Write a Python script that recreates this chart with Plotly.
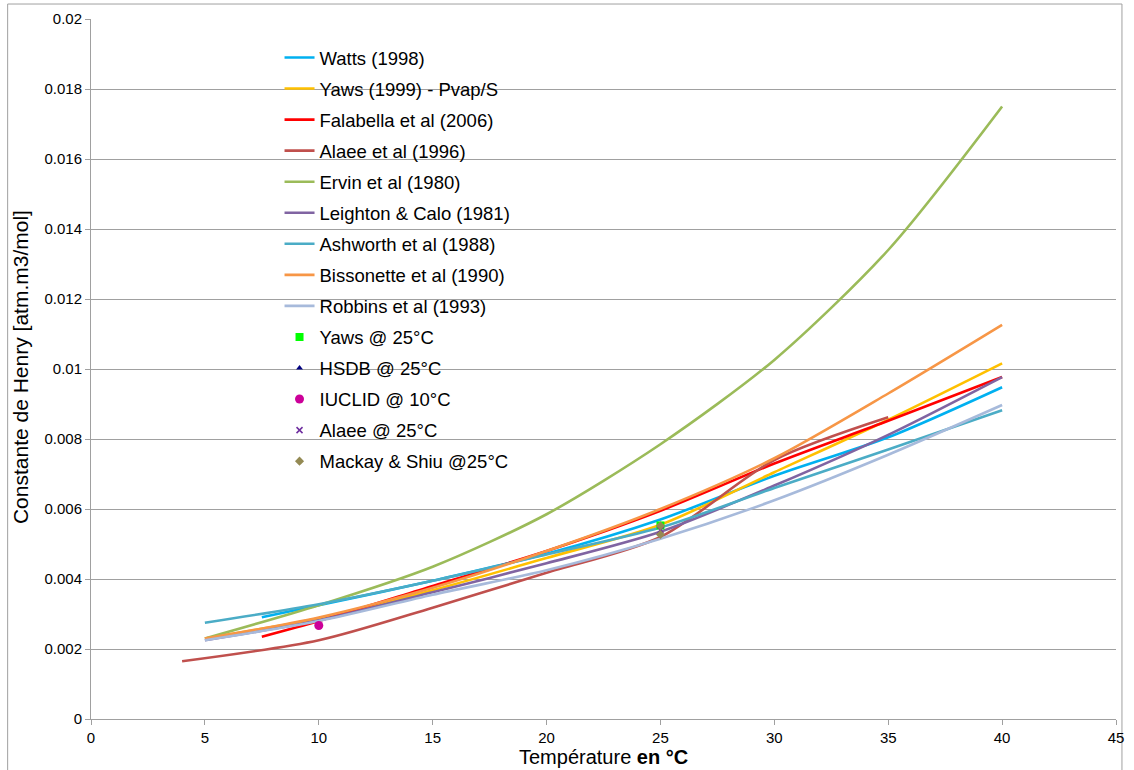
import plotly.graph_objects as go

# ---- data ----
T_full = [5, 10, 15, 20, 25, 30, 35, 40]
T_watts = [7.5, 10, 15, 20, 25, 30, 35, 40]
T_alaee = [4, 10, 15, 20, 25, 30, 35]

watts = [0.00291, 0.00325, 0.00395, 0.00472, 0.00570, 0.00695, 0.00805, 0.00948]
yaws = [0.00230, 0.00288, 0.00368, 0.00460, 0.00555, 0.00705, 0.00855, 0.01016]
falabella = [0.00235, 0.00280, 0.00380, 0.00480, 0.00595, 0.00730, 0.00852, 0.00977]
alaee = [0.00165, 0.00225, 0.00318, 0.00418, 0.00520, 0.00740, 0.00862]
ervin = [0.00230, 0.00325, 0.00435, 0.00585, 0.00785, 0.01026, 0.01340, 0.01750]
leighton = [0.00225, 0.00282, 0.00362, 0.00445, 0.00535, 0.00667, 0.00812, 0.00977]
ashworth = [0.00275, 0.00328, 0.00395, 0.00470, 0.00547, 0.00660, 0.00770, 0.00882]
bissonette = [0.00230, 0.00290, 0.00375, 0.00480, 0.00600, 0.00745, 0.00930, 0.01126]
robbins = [0.00225, 0.00280, 0.00355, 0.00425, 0.00515, 0.00625, 0.00755, 0.00897]

pt_yaws_x, pt_yaws_y = [25], [0.00553]
pt_hsdb_x, pt_hsdb_y = [25], [0.00550]
pt_iuclid_x, pt_iuclid_y = [10], [0.00267]
pt_alaee_x, pt_alaee_y = [25], [0.00540]
pt_mackay_x, pt_mackay_y = [25, 25], [0.00552, 0.00527]

x_ticks = [0, 5, 10, 15, 20, 25, 30, 35, 40, 45]
y_ticks = [0, 0.002, 0.004, 0.006, 0.008, 0.01, 0.012, 0.014, 0.016, 0.018, 0.02]
y_ticktext = ["0", "0.002", "0.004", "0.006", "0.008", "0.01", "0.012", "0.014", "0.016", "0.018", "0.02"]

FONT = "Liberation Sans, Arial, sans-serif"

lines = [
    ("Watts (1998)", T_watts, watts, "#00B0F0"),
    ("Yaws (1999) - Pvap/S", T_full, yaws, "#FFC000"),
    ("Falabella et al (2006)", T_watts, falabella, "#FF0000"),
    ("Alaee et al (1996)", T_alaee, alaee, "#C0504D"),
    ("Ervin et al (1980)", T_full, ervin, "#9BBB59"),
    ("Leighton & Calo (1981)", T_full, leighton, "#8064A2"),
    ("Ashworth et al (1988)", T_full, ashworth, "#4BACC6"),
    ("Bissonette et al (1990)", T_full, bissonette, "#F79646"),
    ("Robbins et al (1993)", T_full, robbins, "#A7BADB"),
]

fig = go.Figure()
for i, (name, xs, ys, col) in enumerate(lines):
    fig.add_trace(go.Scatter(x=xs, y=ys, mode="lines", name=name, legendgroup=f"g{i}",
                             line=dict(color=col, width=2.6, shape="spline", smoothing=0.8)))

pts = [
    ("Yaws @ 25°C", pt_yaws_x, pt_yaws_y, dict(symbol="square", color="#00FF00", size=8)),
    ("HSDB @ 25°C", pt_hsdb_x, pt_hsdb_y, dict(symbol="triangle-up", color="#000080", size=6)),
    ("IUCLID @ 10°C", pt_iuclid_x, pt_iuclid_y, dict(symbol="circle", color="#CC0099", size=9)),
    ("Alaee @ 25°C", pt_alaee_x, pt_alaee_y, dict(symbol="x-thin", color="#7030A0", size=6,
                                                   line=dict(color="#7030A0", width=1.5))),
    ("Mackay & Shiu @25°C", pt_mackay_x, pt_mackay_y, dict(symbol="diamond", color="#948A54", size=7)),
]
for j, (name, xs, ys, mk) in enumerate(pts):
    fig.add_trace(go.Scatter(x=xs, y=ys, mode="markers", name=name, legendgroup=f"p{j}", marker=mk))

W, H = 1134, 770
ml, mr, mt, mb = 91, 10, 18, 51
pw, ph = W - ml - mr, H - mt - mb

def px(xp):
    return (xp - ml) / pw

def py(yp):
    return (H - mb - yp) / ph

fig.update_layout(
    width=W, height=H,
    margin=dict(l=ml, r=mr, t=mt, b=mb, pad=0),
    paper_bgcolor="white", plot_bgcolor="white",
    font=dict(family=FONT, color="#000000", size=15),
    showlegend=True,
    legend=dict(x=px(281), y=py(38), xanchor="left", yanchor="top",
                bgcolor="rgba(0,0,0,0)", borderwidth=0,
                font=dict(family=FONT, size=18.5, color="#000000"),
                traceorder="grouped", tracegroupgap=4, itemwidth=30),
    xaxis=dict(range=[0, 45], tickvals=x_ticks, ticktext=[str(v) for v in x_ticks],
               showgrid=False, zeroline=False, showline=True, linecolor="#A0A0A0", linewidth=1,
               ticks="outside", ticklen=5, tickcolor="#A0A0A0",
               tickfont=dict(family=FONT, size=15, color="#000000")),
    yaxis=dict(range=[0, 0.02], tickvals=y_ticks, ticktext=y_ticktext,
               showgrid=True, gridcolor="#A0A0A0", gridwidth=1, zeroline=False,
               showline=True, linecolor="#A0A0A0", linewidth=1,
               ticks="outside", ticklen=5, tickcolor="#A0A0A0",
               tickfont=dict(family=FONT, size=15, color="#000000")),
    annotations=[
        dict(text="Température <b>en °C</b>", xref="paper", yref="paper",
             x=px(607), y=py(757), xanchor="center", yanchor="middle", showarrow=False,
             font=dict(family=FONT, size=20, color="#000000")),
        dict(text="Constante de Henry [atm.m3/mol]", xref="paper", yref="paper",
             x=px(20), y=py(367), xanchor="center", yanchor="middle", showarrow=False,
             textangle=-90, font=dict(family=FONT, size=21, color="#000000")),
    ],
    shapes=[
        dict(type="rect", xref="paper", yref="paper", x0=px(7), x1=px(1130), y0=py(800), y1=py(3),
             line=dict(color="#A0A0A0", width=1), fillcolor="rgba(0,0,0,0)", layer="below"),
    ],
)

fig.write_html("out.html")
